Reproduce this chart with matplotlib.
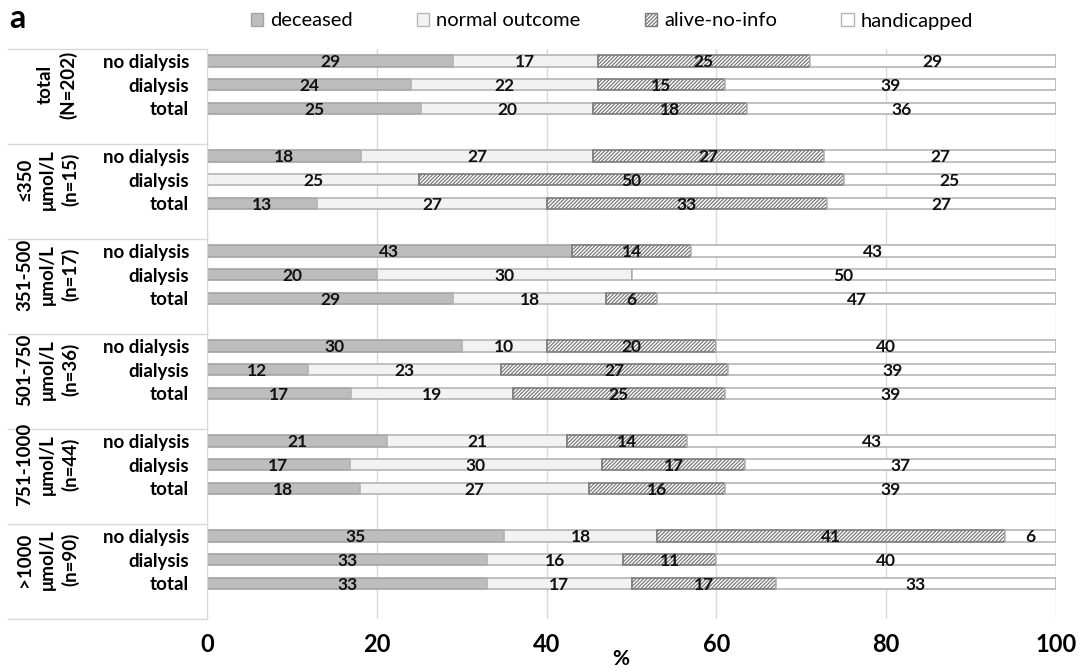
import numpy as np
import matplotlib.pyplot as plt
from matplotlib.patches import Patch
import matplotlib.transforms as mtransforms

# -------------------------
# DATA
# -------------------------
groups = ["total\n(N=202)", "≤350\nμmol/L\n(n=15)", "351-500\nμmol/L\n(n=17)",
          "501-750\nμmol/L\n(n=36)", "751-1000\nμmol/L\n(n=44)", ">1000\nμmol/L\n(n=90)"]
rows = ["no dialysis", "dialysis", "total"]
series = ["deceased", "normal outcome", "alive-no-info", "handicapped"]

deceased = [29, 24, 25, 18, 0, 13, 43, 20, 29, 30, 12, 17, 21, 17, 18, 35, 33, 33]
normal = [17, 22, 20, 27, 25, 27, 0, 30, 18, 10, 23, 19, 21, 30, 27, 18, 16, 17]
alive = [25, 15, 18, 27, 50, 33, 14, 0, 6, 20, 27, 25, 14, 17, 16, 41, 11, 17]
handicapped = [29, 39, 36, 27, 25, 27, 43, 50, 47, 40, 39, 39, 43, 37, 39, 6, 40, 33]

# -------------------------
# STYLE
# -------------------------
plt.rcParams['font.family'] = ['Lato', 'DejaVu Sans']
plt.rcParams['hatch.linewidth'] = 0.9

styles = [
    dict(color="#bdbdbd", edgecolor="#a3a3a3", hatch=None),
    dict(color="#f2f2f2", edgecolor="#b5b5b5", hatch=None),
    dict(color="white", edgecolor="#7a7a7a", hatch="/////////"),
    dict(color="white", edgecolor="#b5b5b5", hatch=None),
]

vals = np.array([deceased, normal, alive, handicapped], dtype=float)
widths = vals / vals.sum(axis=0) * 100  # 100% stacked

n_groups = len(groups)
ypos = np.array([4 * g + r for g in range(n_groups) for r in range(len(rows))])

fig = plt.figure(figsize=(10.79, 6.70), dpi=100)
ax = fig.add_axes([207 / 1079, 1 - 619 / 670, (1056 - 207) / 1079, (619 - 49) / 670])

left = np.zeros(len(ypos))
for i, name in enumerate(series):
    st = styles[i]
    ax.barh(ypos, widths[i], left=left, height=0.48, color=st["color"],
            edgecolor=st["edgecolor"], hatch=st["hatch"], linewidth=1.2, zorder=3,
            label=name)
    for y, l, w, v in zip(ypos, left, widths[i], vals[i]):
        if v > 0:
            ax.text(l + w / 2, y + 0.05, f"{int(v)}", ha="center", va="center",
                    fontsize=12.5, fontweight="bold", color="#111111", zorder=4)
    left = left + widths[i]

ax.set_xlim(0, 100)
ax.set_ylim(4 * n_groups - 0.5, -0.5)
ax.set_xticks([0, 20, 40, 60, 80, 100])
ax.set_xticklabels(["0", "20", "40", "60", "80", "100"], fontsize=17, fontweight="bold")
ax.set_yticks(ypos)
ax.set_yticklabels(rows * n_groups, fontsize=13.5, fontweight="bold")
ax.tick_params(axis="y", length=0, pad=13)
ax.tick_params(axis="x", length=0, pad=10)
ax.grid(axis="x", color="#d9d9d9", linewidth=1, zorder=0)
for s in ["top", "right", "bottom"]:
    ax.spines[s].set_visible(False)
ax.spines["left"].set_color("#d9d9d9")
ax.spines["left"].set_zorder(5)

ax.set_xlabel("%", fontsize=15, fontweight="bold")
ax.xaxis.set_label_coords(0.487, -0.052)

# group boxes on the left
trans = mtransforms.blended_transform_factory(ax.transAxes, ax.transData)
box_left = (8 - 207) / 849
for g in range(n_groups + 1):
    ax.plot([box_left, 0], [4 * g - 0.5] * 2, color="#d9d9d9", lw=1,
            transform=trans, clip_on=False)
for g, lab in enumerate(groups):
    xg = (57 - 207) / 849 if g == 0 else (48 - 207) / 849
    ax.text(xg, 4 * g + 1, lab, transform=trans, rotation=90, ha="center",
            va="center", multialignment="center", fontsize=13.5,
            fontweight="bold", linespacing=1.4)

# legend
handles = [Patch(facecolor=st["color"], edgecolor=st["edgecolor"], hatch=st["hatch"],
                 linewidth=1.0) for st in styles]
fig.legend(handles, series, loc="center", bbox_to_anchor=(612 / 1079, 1 - 21 / 670),
           ncol=4, frameon=False, fontsize=14.5, handlelength=0.6, handleheight=0.6,
           handletextpad=0.35, columnspacing=3.2)

fig.text(9 / 1079, 1 - 18 / 670, "a", fontsize=23, fontweight="bold", va="center")

fig.savefig("out.png", dpi=100)
